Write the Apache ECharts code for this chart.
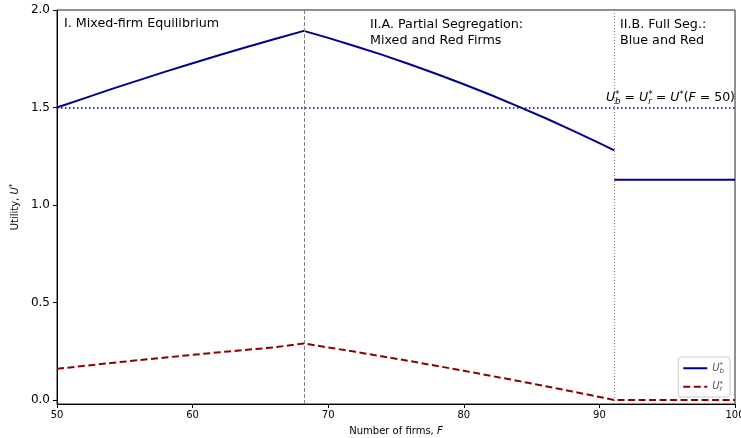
<!DOCTYPE html>
<html>
<head>
    <meta charset="utf-8">
    <title>Utility vs number of firms</title>
    <script src="https://cdn.jsdelivr.net/npm/echarts@6/dist/echarts.min.js"></script>
    <style>
        html, body { margin: 0; padding: 0; background: #fff; }
        #chart { width: 741px; height: 438px; }
    </style>
</head>
<body>
<div id="chart"></div>
<script>
    // 数据：估计值
    var blueMixed = [[50, 1.50], [52, 1.547], [54, 1.594], [56, 1.639], [58, 1.684], [60, 1.727],
        [62, 1.769], [64, 1.810], [66, 1.850], [68.2, 1.893], [70, 1.857], [72, 1.814], [74, 1.770],
        [76, 1.722], [78, 1.672], [80, 1.619], [82, 1.564], [84, 1.506], [86, 1.446], [88, 1.383],
        [90, 1.317], [91.1, 1.28]];
    var blueFull = [[91.1, 1.13], [100, 1.13]];
    var redSeries = [[50, 0.16], [54, 0.19], [58, 0.218], [62, 0.245], [66, 0.27], [68.2, 0.29],
        [72, 0.247], [76, 0.20], [80, 0.15], [84, 0.098], [88, 0.044], [91.1, 0.0], [100, 0.0]];
    var regimeBreaks = [68.2, 91.1];
    var baselineU = 1.5;
    var yTicks = [0, 0.5, 1.0, 1.5, 2.0];

    var myChart = echarts.init(document.getElementById('chart'));
    var rich = {
        i: { fontStyle: 'italic', fontSize: 10, fontFamily: 'DejaVu Sans' },
        sup: { fontSize: 7, verticalAlign: 'top', padding: [0, 0, 6, 0], fontFamily: 'DejaVu Sans' }
    };
    var mathRich = function (size) {
        return {
            i: { fontStyle: 'italic', fontSize: size, fontFamily: 'DejaVu Sans' },
            s: { fontSize: size * 0.7, padding: [0, 0, size * 0.55, 0], fontFamily: 'DejaVu Sans' },
            b: { fontSize: size * 0.7, fontStyle: 'italic', padding: [size * 0.55, 0, 0, -size * 0.35], fontFamily: 'DejaVu Sans' }
        };
    };

    myChart.setOption({
        animation: false,
        textStyle: { fontFamily: 'DejaVu Sans' },
        grid: {
            left: 57, right: 6, top: 10, bottom: 34,
            outerBoundsMode: 'none',
            show: true, borderColor: '#222', borderWidth: 1
        },
        xAxis: {
            type: 'value', min: 50, max: 100, interval: 10,
            name: 'Number of firms, {i|F}',
            nameLocation: 'middle', nameGap: 22,
            nameTextStyle: { fontSize: 10, color: '#000', rich: rich },
            axisLine: { onZero: false, lineStyle: { color: '#000', width: 1 } },
            axisTick: { length: 4, lineStyle: { color: '#000' } },
            axisLabel: { color: '#000', fontSize: 10, margin: 6 },
            splitLine: { show: false }
        },
        yAxis: {
            type: 'value', min: -0.0205, max: 2.0,
            name: 'Utility, {i|U}{sup|*}',
            nameLocation: 'middle', nameGap: 35,
            nameTextStyle: { fontSize: 10, color: '#000', rich: rich },
            axisLine: { show: true, onZero: false, lineStyle: { color: '#000', width: 1 } },
            axisTick: { show: true, length: 4, customValues: yTicks, lineStyle: { color: '#000' } },
            axisLabel: { color: '#000', fontSize: 12, margin: 7, customValues: yTicks,
                formatter: function (v) { return v.toFixed(1); } },
            splitLine: { show: false }
        },
        legend: {
            right: 11, bottom: 41, orient: 'vertical',
            itemWidth: 24, itemHeight: 10, itemGap: 6,
            padding: [5, 6, 4, 4],
            backgroundColor: '#fff', borderColor: '#ccc', borderWidth: 1, borderRadius: 3,
            itemStyle: { opacity: 0 },
            data: ['Ub', 'Ur'],
            formatter: function (n) {
                return n === 'Ub' ? '{i|U}{s|*}{b|b}' : '{i|U}{s|*}{b|r}';
            },
            textStyle: { rich: mathRich(10) }
        },
        series: [
            {
                name: 'Ub', type: 'line', data: blueMixed, symbol: 'none',
                lineStyle: { color: '#00008b', width: 2 }, itemStyle: { color: '#00008b' },
                markLine: {
                    silent: true, symbol: 'none', label: { show: false },
                    data: [
                        { xAxis: regimeBreaks[0], lineStyle: { color: '#808080', type: [4, 2], width: 1 } },
                        { xAxis: regimeBreaks[1], lineStyle: { color: '#808080', type: [1, 2], width: 1 } },
                        { yAxis: baselineU, lineStyle: { color: '#0000cd', type: [1.5, 2.5], width: 1.5 } }
                    ]
                }
            },
            {
                name: 'UbFull', type: 'line', data: blueFull, symbol: 'none',
                lineStyle: { color: '#00008b', width: 2 }
            },
            {
                name: 'Ur', type: 'line', data: redSeries, symbol: 'none',
                lineStyle: { color: '#8b0000', width: 2, type: [7, 3.5] }, itemStyle: { color: '#8b0000' }
            }
        ],
        graphic: [
            { type: 'text', left: 64, top: 17, style: { text: 'I. Mixed-firm Equilibrium', fontSize: 12.7, fill: '#000', fontFamily: 'DejaVu Sans' } },
            { type: 'text', left: 370, top: 17, style: { text: 'II.A. Partial Segregation:\nMixed and Red Firms', fontSize: 12.7, lineHeight: 16, fill: '#000', fontFamily: 'DejaVu Sans' } },
            { type: 'text', left: 620, top: 17, style: { text: 'II.B. Full Seg.:\nBlue and Red', fontSize: 12.7, lineHeight: 16, fill: '#000', fontFamily: 'DejaVu Sans' } },
            { type: 'text', right: 6, top: 90, style: {
                text: '{i|U}{s|*}{b|b} = {i|U}{s|*}{b|r} = {i|U}{s|*}({i|F} = 50)',
                fill: '#000', fontFamily: 'DejaVu Sans', fontSize: 12.5,
                rich: mathRich(12.5) } }
        ]
    });
</script>
</body>
</html>
